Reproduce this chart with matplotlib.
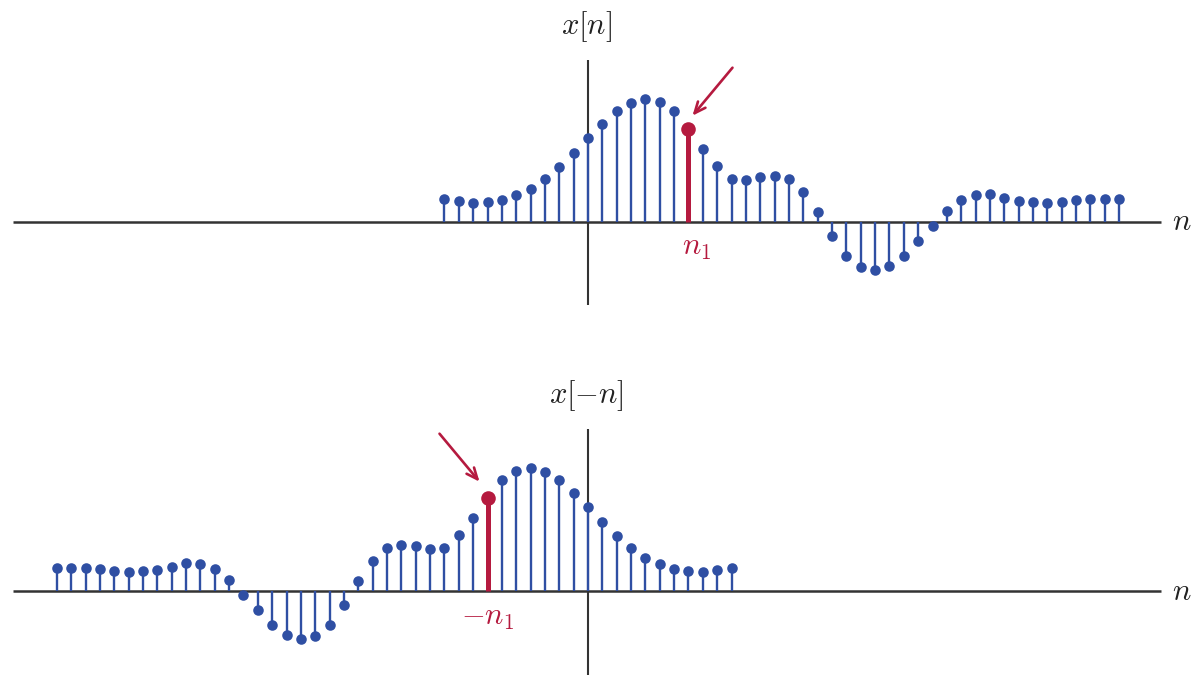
import matplotlib
matplotlib.use("Agg")
import matplotlib.pyplot as plt
import numpy as np
from matplotlib.transforms import offset_copy

plt.rcParams["mathtext.fontset"] = "cm"

# sample indices and values of x[n]
n = np.arange(-10, 38)
x = np.array([
    22.6, 20.6, 19.3, 20.0, 22.0, 26.6, 33.3, 43.3, 55.3, 69.3,
    84.0, 98.3, 110.6, 119.3, 122.6, 120.0, 110.6, 93.3, 72.8, 55.8,
    43.5, 41.6, 45.0, 46.3, 43.3, 29.6, 9.6, -13.7, -34.4, -45.0,
    -47.7, -44.4, -34.4, -19.2, -3.8, 11.0, 21.7, 27.0, 27.7, 24.4,
    21.0, 20.0, 19.4, 20.0, 21.7, 23.4, 23.4, 23.4,
])
n1 = 7

BLUE = "#2f4fa3"
RED = "#b51a3f"
AXIS = "#333333"
TEXT = "#222222"

W, H = 1193, 675
X0 = 588          # pixel column of n = 0
PX = 14.355       # pixels per sample
FS = 22

fig = plt.figure(figsize=(W / 100, H / 100), dpi=100)


def panel(rect, ylim, idx, vals, k1, title, k1_label, k1_dx, vtop, vbot,
          head, tail):
    ax = fig.add_axes(rect)
    ax.set_xlim(-X0 / PX, (W - X0) / PX)
    ax.set_ylim(*ylim)
    ax.axis("off")

    # axes
    ax.plot([-40.05, 39.9], [0, 0], color=AXIS, lw=1.8, solid_capstyle="butt")
    ax.plot([0, 0], [vbot, vtop], color=AXIS, lw=1.5, solid_capstyle="butt")

    # stems
    blue = idx != k1
    ax.vlines(idx[blue], 0, vals[blue], color=BLUE, lw=1.7)
    ax.plot(idx[blue], vals[blue], "o", color=BLUE, ms=7.6, mec="none")
    v1 = vals[idx == k1][0]
    ax.vlines(k1, 0, v1, color=RED, lw=3.6)
    ax.plot(k1, v1, "o", color=RED, ms=10.5, mec="none")

    # labels
    ax.text(-0.1, vtop + 33, title, ha="center", va="center", fontsize=FS,
            color=TEXT)
    ax.text(41.35, 0, "$n$", ha="center", va="center", fontsize=FS,
            color=TEXT)
    ax.text(k1 + k1_dx, -26, k1_label, ha="center", va="center",
            fontsize=FS, color=RED)

    # arrow pointing at the highlighted sample
    tr = offset_copy(ax.transData, fig=fig, x=head[0], y=head[1], units="dots")
    ax.annotate("", xy=(k1, v1), xycoords=tr,
                xytext=tail, textcoords="offset pixels",
                arrowprops=dict(arrowstyle="->,head_length=0.8,head_width=0.35",
                                color=RED, lw=1.9, shrinkA=0, shrinkB=0))
    return ax


top_h = 337 / H
panel([0, 1 - top_h, 1, top_h], (-115, 222), n, x, n1,
      "$x[n]$", "$n_1$", 0.6, 162, -83, head=(4, 13), tail=(40, 48))

# time-reversed sequence x[-n]
panel([0, 0, 1, 1 - top_h], (-84, 254), -n, x, -n1,
      "$x[-n]$", "$-n_1$", 0.0, 162, -84, head=(-8, 16), tail=(-40, 48))

fig.savefig("out.png", dpi=100)
